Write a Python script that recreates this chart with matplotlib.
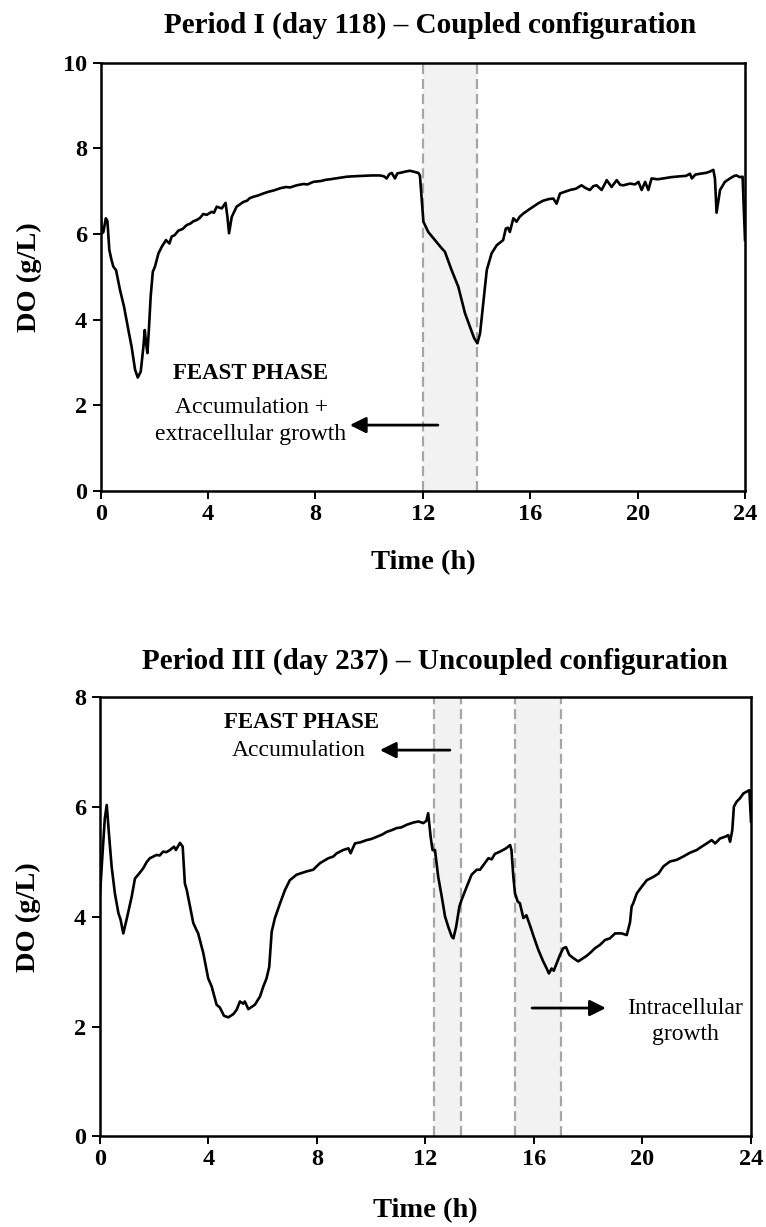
import matplotlib
matplotlib.use("Agg")
import matplotlib.pyplot as plt

plt.rcParams["font.family"] = ["Liberation Serif", "DejaVu Serif"]

# Period I (day 118) - coupled configuration
t1 = [0.00, 0.05, 0.10, 0.19, 0.25, 0.32, 0.40, 0.47, 0.57, 0.72, 0.87, 1.03, 1.15, 1.28,
      1.38, 1.49, 1.59, 1.64, 1.69, 1.74, 1.80, 1.86, 1.94, 2.02, 2.15, 2.27, 2.43, 2.56,
      2.64, 2.76, 2.89, 3.05, 3.20, 3.35, 3.45, 3.58, 3.70, 3.82, 3.95, 4.13, 4.22, 4.32,
      4.42, 4.51, 4.65, 4.72, 4.78, 4.88, 5.06, 5.20, 5.31, 5.45, 5.55, 5.68, 5.85, 6.06,
      6.25, 6.45, 6.68, 6.90, 7.05, 7.30, 7.55, 7.70, 7.92, 8.20, 8.40, 8.54, 8.85, 9.16,
      9.40, 9.78, 10.10, 10.40, 10.55, 10.65, 10.75, 10.84, 10.96, 11.05, 11.15, 11.35,
      11.52, 11.70, 11.83, 11.89, 11.96, 12.02, 12.20, 12.45, 12.70, 12.82, 13.07, 13.32,
      13.57, 13.75, 13.91, 14.03, 14.13, 14.25, 14.38, 14.56, 14.75, 14.99, 15.09, 15.17,
      15.24, 15.37, 15.49, 15.60, 15.74, 15.92, 16.11, 16.30, 16.48, 16.70, 16.86, 16.98,
      17.11, 17.30, 17.48, 17.70, 17.91, 18.05, 18.22, 18.35, 18.47, 18.66, 18.85, 19.03,
      19.22, 19.35, 19.47, 19.72, 19.90, 20.03, 20.15, 20.28, 20.40, 20.52, 20.75, 20.95,
      21.25, 21.58, 21.80, 21.95, 22.02, 22.15, 22.33, 22.55, 22.69, 22.82, 22.88, 22.94,
      23.07, 23.25, 23.44, 23.60, 23.69, 23.80, 23.91, 24.00]
do1 = [6.45, 6.02, 6.05, 6.37, 6.30, 5.63, 5.40, 5.24, 5.16, 4.69, 4.30, 3.76, 3.37, 2.83,
       2.65, 2.79, 3.37, 3.76, 3.45, 3.22, 3.84, 4.54, 5.12, 5.24, 5.55, 5.70, 5.86, 5.78,
       5.94, 5.98, 6.08, 6.12, 6.21, 6.25, 6.30, 6.33, 6.38, 6.47, 6.45, 6.52, 6.50, 6.64,
       6.62, 6.60, 6.73, 6.40, 6.02, 6.40, 6.64, 6.70, 6.75, 6.78, 6.84, 6.87, 6.90, 6.95,
       6.99, 7.02, 7.07, 7.10, 7.09, 7.14, 7.17, 7.16, 7.22, 7.24, 7.27, 7.28, 7.31, 7.34,
       7.35, 7.36, 7.37, 7.37, 7.35, 7.30, 7.40, 7.43, 7.30, 7.42, 7.43, 7.46,
       7.48, 7.45, 7.43, 7.37, 6.79, 6.29, 6.05, 5.86, 5.67, 5.59, 5.16, 4.77,
       4.15, 3.84, 3.57, 3.45, 3.68, 4.38, 5.16, 5.55, 5.74, 5.86, 6.13, 6.15,
       6.05, 6.37, 6.29, 6.40, 6.48, 6.56, 6.64, 6.72, 6.78, 6.82, 6.83, 6.71,
       6.95, 6.99, 7.03, 7.06, 7.14, 7.08, 7.03, 7.12, 7.14, 7.03, 7.26, 7.10,
       7.26, 7.15, 7.14, 7.18, 7.16, 7.22, 7.03, 7.22, 7.03, 7.30, 7.28, 7.30,
       7.33, 7.35, 7.36, 7.41, 7.30, 7.39, 7.41, 7.43, 7.46, 7.50, 7.30, 6.50,
       7.03, 7.22, 7.30, 7.36, 7.37, 7.33, 7.34, 5.86]

# Period III (day 237) - uncoupled configuration
t2 = [0.00, 0.10, 0.18, 0.25, 0.34, 0.43, 0.55, 0.68, 0.76, 0.86, 0.98, 1.17, 1.29, 1.41,
      1.60, 1.72, 1.84, 2.09, 2.20, 2.33, 2.45, 2.58, 2.73, 2.80, 2.95, 3.05, 3.13, 3.20,
      3.32, 3.44, 3.56, 3.62, 3.81, 3.99, 4.12, 4.30, 4.42, 4.57, 4.73, 4.92, 5.04, 5.16,
      5.28, 5.34, 5.47, 5.71, 5.90, 6.02, 6.14, 6.24, 6.29, 6.33, 6.45, 6.64, 6.82, 7.00,
      7.25, 7.62, 7.86, 8.11, 8.42, 8.60, 8.73, 8.97, 9.16, 9.24, 9.40, 9.60, 9.83, 10.00,
      10.20, 10.40, 10.57, 10.75, 10.94, 11.10, 11.31, 11.55, 11.74, 11.92, 12.03, 12.10,
      12.19, 12.26, 12.35, 12.47, 12.60, 12.72, 12.84, 12.97, 13.03, 13.13, 13.25, 13.33,
      13.52, 13.70, 13.89, 14.01, 14.19, 14.32, 14.44, 14.56, 14.75, 14.97, 15.12, 15.17,
      15.24, 15.30, 15.40, 15.48, 15.61, 15.72, 15.85, 15.97, 16.16, 16.34, 16.47, 16.55,
      16.65, 16.73, 16.84, 16.96, 17.08, 17.18, 17.30, 17.45, 17.63, 17.82, 17.94, 18.06,
      18.25, 18.43, 18.62, 18.80, 18.99, 19.23, 19.42, 19.54, 19.60, 19.66, 19.79, 19.97,
      20.16, 20.40, 20.59, 20.77, 21.01, 21.26, 21.50, 21.75, 22.00, 22.18, 22.37, 22.55,
      22.68, 22.86, 23.04, 23.16, 23.23, 23.31, 23.37, 23.47, 23.59, 23.72, 23.94, 24.00]
do2 = [4.40, 5.20, 5.80, 6.04, 5.46, 4.92, 4.43, 4.07, 3.95, 3.70, 3.95, 4.37, 4.70, 4.77,
       4.89, 5.00, 5.07, 5.13, 5.12, 5.19, 5.18, 5.22, 5.28, 5.22, 5.35, 5.28, 4.61, 4.49,
       4.19, 3.89, 3.76, 3.70, 3.34, 2.88, 2.73, 2.40, 2.35, 2.20, 2.17, 2.23, 2.31, 2.46,
       2.42, 2.46, 2.32, 2.40, 2.55, 2.73, 2.88, 3.09, 3.46, 3.73, 3.98, 4.25, 4.49, 4.67,
       4.77, 4.83, 4.86, 4.98, 5.07, 5.10, 5.16, 5.22, 5.25, 5.16, 5.34, 5.36, 5.40, 5.42,
       5.46, 5.50, 5.55, 5.58, 5.62, 5.63, 5.68, 5.72, 5.74, 5.71, 5.75, 5.89,
       5.46, 5.22, 5.22, 4.73, 4.37, 4.01, 3.82, 3.64, 3.61, 3.82, 4.19, 4.31,
       4.55, 4.77, 4.86, 4.86, 4.98, 5.07, 5.05, 5.15, 5.19, 5.25, 5.31, 5.22,
       4.73, 4.43, 4.28, 4.25, 3.98, 4.03, 3.85, 3.67, 3.40, 3.19, 3.06, 2.97,
       3.06, 3.02, 3.16, 3.31, 3.43, 3.45, 3.31, 3.25, 3.19, 3.25, 3.29, 3.34,
       3.43, 3.49, 3.58, 3.61, 3.70, 3.70, 3.67, 3.90, 4.19, 4.25, 4.43, 4.55,
       4.67, 4.73, 4.79, 4.92, 5.01, 5.04, 5.10, 5.17, 5.22, 5.28, 5.34, 5.40,
       5.34, 5.43, 5.46, 5.49, 5.37, 5.58, 6.01, 6.10, 6.16, 6.25, 6.31, 5.74]

x_ticks = [0, 4, 8, 12, 16, 20, 24]
y_ticks_top = [0, 2, 4, 6, 8, 10]
y_ticks_bottom = [0, 2, 4, 6, 8]
bands_top = [(12.0, 14.0)]
bands_bottom = [(12.3, 13.3), (15.3, 17.0)]

title_top = "Period I (day 118) \u2013 Coupled configuration"
title_bottom = "Period III (day 237) \u2013 Uncoupled configuration"

ARROW = dict(arrowstyle="-|>", color="black", lw=2.0, mutation_scale=24,
             shrinkA=0, shrinkB=0)


def style_axes(ax, yticks, band_list, title, title_x, title_y):
    for x0, x1 in band_list:
        ax.axvspan(x0, x1, color="#f2f2f2", zorder=0, lw=0)
        for xv in (x0, x1):
            ax.axvline(xv, color="#a6a6a6", lw=1.6, ls=(0, (4.5, 2.2)), zorder=1)
    ax.set_xlim(0, 24)
    ax.set_ylim(0, yticks[-1])
    ax.set_xticks(x_ticks)
    ax.set_yticks(yticks)
    for s in ax.spines.values():
        s.set_linewidth(1.8)
    ax.tick_params(direction="out", length=5.8, width=1.4, labelsize=17.5, pad=3.5)
    ax.tick_params(axis="y", pad=4)
    for lab in ax.get_xticklabels() + ax.get_yticklabels():
        lab.set_fontweight("bold")
    ax.text(title_x, title_y, title, transform=ax.transAxes, ha="center", va="center",
            fontsize=21, fontweight="bold")
    ax.text(0.5, -0.168, "Time (h)", transform=ax.transAxes, ha="center", va="center",
            fontsize=20.5, fontweight="bold")
    ax.text(-0.11, 0.5, "DO (g/L)", transform=ax.transAxes, ha="center", va="center",
            rotation=90, fontsize=20.5, fontweight="bold")


fig = plt.figure(figsize=(7.66, 12.27), dpi=100)
ax1 = fig.add_axes([0.1315, 0.5998, 0.8411, 0.3490])
ax2 = fig.add_axes([0.1305, 0.0738, 0.8499, 0.3578])

ax1.plot(t1, do1, color="black", lw=1.9, zorder=3)
style_axes(ax1, y_ticks_top, bands_top, title_top, 0.511, 1.088)
ax1.text(5.6, 2.75, "FEAST PHASE", ha="center", va="center", fontsize=16.5, fontweight="bold")
ax1.text(5.6, 1.96, "Accumulation +", ha="center", va="center", fontsize=17)
ax1.text(5.6, 1.33, "extracellular growth", ha="center", va="center", fontsize=17)
ax1.annotate("", xy=(9.28, 1.54), xytext=(12.56, 1.54), arrowprops=ARROW)

ax2.plot(t2, do2, color="black", lw=1.9, zorder=3)
style_axes(ax2, y_ticks_bottom, bands_bottom, title_bottom, 0.515, 1.0815)
ax2.text(7.45, 7.55, "FEAST PHASE", ha="center", va="center", fontsize=16.5, fontweight="bold")
ax2.text(7.34, 7.04, "Accumulation", ha="center", va="center", fontsize=17)
ax2.annotate("", xy=(10.32, 7.04), xytext=(12.9, 7.04), arrowprops=ARROW)
ax2.text(21.57, 2.34, "Intracellular", ha="center", va="center", fontsize=17)
ax2.text(21.57, 1.85, "growth", ha="center", va="center", fontsize=17)
ax2.annotate("", xy=(18.65, 2.34), xytext=(15.93, 2.34), arrowprops=ARROW)

fig.savefig("out.png", dpi=100)
